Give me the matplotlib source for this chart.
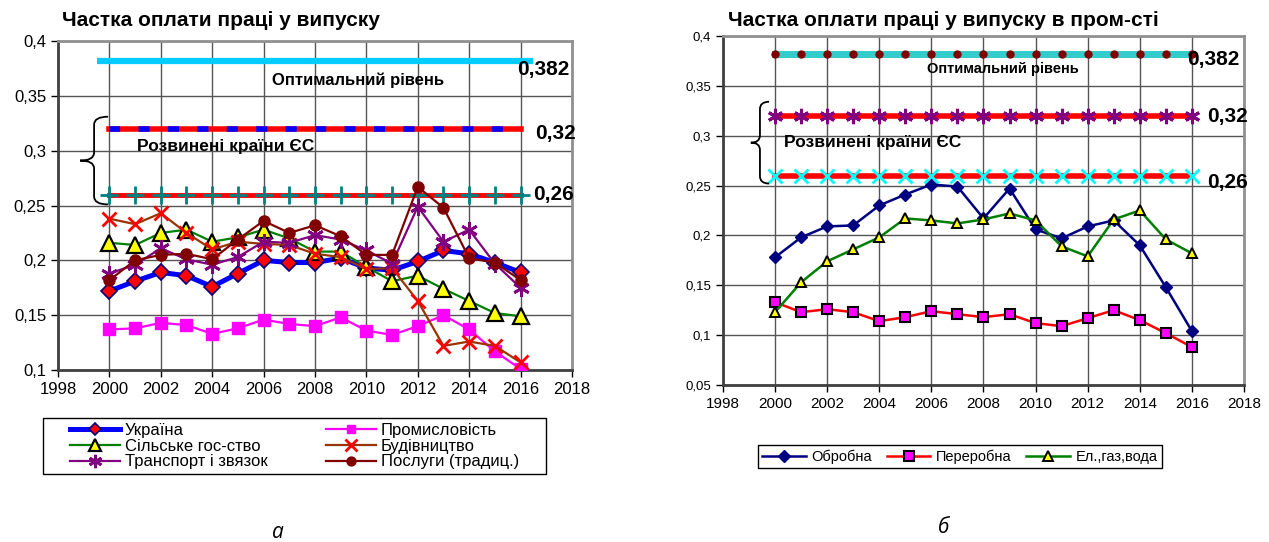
import numpy as np
import matplotlib
matplotlib.use('Agg')
import matplotlib.pyplot as plt
from matplotlib.path import Path
from matplotlib.patches import PathPatch, Rectangle
from matplotlib.ticker import FuncFormatter, MultipleLocator

plt.rcParams['font.family'] = ['Liberation Sans', 'DejaVu Sans']

years = list(range(2000, 2017))

# chart a - share of labour pay in output by sector
ukraine = [0.172, 0.181, 0.189, 0.186, 0.176, 0.188, 0.200, 0.198, 0.198,
           0.202, 0.193, 0.191, 0.199, 0.209, 0.206, 0.198, 0.189]
industry = [0.137, 0.138, 0.143, 0.141, 0.133, 0.138, 0.146, 0.142, 0.140,
            0.148, 0.136, 0.132, 0.140, 0.150, 0.137, 0.117, 0.101]
agriculture = [0.216, 0.214, 0.225, 0.228, 0.217, 0.221, 0.228, 0.220, 0.208,
               0.208, 0.194, 0.181, 0.186, 0.174, 0.163, 0.152, 0.149]
construction = [0.238, 0.233, 0.243, 0.225, 0.210, 0.217, 0.215, 0.214, 0.206,
                0.203, 0.192, 0.193, 0.163, 0.122, 0.126, 0.122, 0.107]
transport = [0.188, 0.196, 0.211, 0.201, 0.196, 0.203, 0.217, 0.216, 0.223,
             0.219, 0.209, 0.197, 0.249, 0.217, 0.228, 0.197, 0.175]
services = [0.182, 0.200, 0.205, 0.206, 0.201, 0.219, 0.236, 0.225, 0.232,
            0.222, 0.205, 0.205, 0.267, 0.248, 0.202, 0.198, 0.182]

# chart b - industry
obrobna = [0.178, 0.198, 0.209, 0.210, 0.230, 0.241, 0.251, 0.249, 0.217,
           0.247, 0.206, 0.197, 0.209, 0.215, 0.190, 0.148, 0.104]
pererobna = [0.133, 0.123, 0.126, 0.123, 0.114, 0.118, 0.124, 0.121, 0.118,
             0.121, 0.112, 0.109, 0.117, 0.125, 0.115, 0.102, 0.088]
energy = [0.123, 0.153, 0.174, 0.186, 0.198, 0.217, 0.215, 0.212, 0.216,
          0.222, 0.215, 0.189, 0.179, 0.216, 0.225, 0.196, 0.182]

optimal = 0.382
eu_high = 0.32
eu_low = 0.26
optimal_span_a = [1999.5, 2016.5]

W, H = 1269, 542

def comma(v, pos):
    return ('%g' % round(v, 3)).replace('.', ',')

def brace(ax, x_tip, x_end, y0, y1):
    xm = (x_tip + x_end) / 2
    yc = (y0 + y1) / 2
    r = (y1 - y0) * 0.09
    verts = [(x_end, y1), (xm, y1), (xm, y1 - r), (xm, yc + r),
             (xm, yc), (x_tip, yc), (xm, yc), (xm, yc - r),
             (xm, y0 + r), (xm, y0), (x_end, y0)]
    codes = [Path.MOVETO, Path.CURVE3, Path.CURVE3, Path.LINETO,
             Path.CURVE3, Path.CURVE3, Path.CURVE3, Path.CURVE3,
             Path.LINETO, Path.CURVE3, Path.CURVE3]
    ax.add_patch(PathPatch(Path(verts, codes), fill=False, lw=1.3,
                           color='black', clip_on=False, zorder=5))

def style_axes(ax, ymin, xfs, yfs):
    ax.set_xlim(1998, 2018)
    ax.set_ylim(ymin, 0.4)
    ax.xaxis.set_major_locator(MultipleLocator(2))
    ax.yaxis.set_major_locator(MultipleLocator(0.05))
    ax.yaxis.set_major_formatter(FuncFormatter(comma))
    ax.grid(True, color='#555555', lw=1)
    ax.set_axisbelow(True)
    for s in ['top', 'right']:
        ax.spines[s].set_color('#909090')
        ax.spines[s].set_linewidth(2)
    for s in ['left', 'bottom']:
        ax.spines[s].set_color('#404040')
        ax.spines[s].set_linewidth(2)
    ax.tick_params(direction='out', length=5, width=1, colors='black')
    ax.tick_params(axis='x', labelsize=xfs)
    ax.tick_params(axis='y', labelsize=yfs)

def frame_box(x0, y0, x1, y1):
    # legend frame in pixel coords of the reference (y from top)
    fig.add_artist(Rectangle((x0 / W, 1 - y1 / H), (x1 - x0) / W,
                             (y1 - y0) / H, transform=fig.transFigure,
                             fill=False, ec='black', lw=1))

fig = plt.figure(figsize=(12.69, 5.42), dpi=100)

# ---------------- chart a
ax1 = fig.add_axes([0.0457, 0.3173, 0.405, 0.607])
style_axes(ax1, 0.1, 12, 12)

ax1.plot(optimal_span_a, [optimal] * 2, color='#00CCFF', lw=4.5,
         solid_capstyle='butt', zorder=3)
ax1.plot(years, [eu_high] * len(years), color='red', lw=4, zorder=3)
ax1.plot(years, [eu_high] * len(years), color='blue', lw=4,
         ls=(0, (2.0, 3.3)), zorder=3)
ax1.plot(years, [eu_low] * len(years), color='red', lw=3.5, zorder=3)
ax1.plot(years, [eu_low] * len(years), color='#008080', lw=0, marker='+',
         ms=13, mew=2, zorder=3)

h_ua, = ax1.plot(years, ukraine, color='blue', lw=3.6, marker='D', ms=8,
                 mfc='red', mec='#000080', mew=1.2, zorder=4, label='Україна')
h_ind, = ax1.plot(years, industry, color='#FF00FF', lw=1.6, marker='s', ms=8,
                  mfc='#FF00FF', mec='#FF00FF', zorder=4, label='Промисловість')
h_agr, = ax1.plot(years, agriculture, color='#008000', lw=1.6, marker='^', ms=11,
                  mfc='yellow', mec='black', mew=1.6, zorder=4,
                  label='Сільське гос-ство')
h_con, = ax1.plot(years, construction, color='#993300', lw=1.6, marker='x',
                  ms=10, mec='red', mew=2, zorder=4, label='Будівництво')
h_tr, = ax1.plot(years, transport, color='#800080', lw=1.6, marker=(6, 2, 0),
                 ms=12, mec='#800080', mew=2, zorder=4,
                 label='Транспорт і звязок')
h_srv, = ax1.plot(years, services, color='#800000', lw=1.6, marker='o', ms=8,
                  mfc='#800000', mec='#800000', zorder=4,
                  label='Послуги (традиц.)')

ax1.text(2009.67, 0.3645, 'Оптимальний рівень', fontsize=12, weight='bold',
         ha='center', va='center', zorder=6)
ax1.text(2015.86, 0.3736, '0,382', fontsize=15, weight='bold', ha='left',
         va='center', clip_on=False, zorder=6)
ax1.text(2016.56, 0.316, '0,32', fontsize=15, weight='bold', ha='left',
         va='center', clip_on=False, zorder=6)
ax1.text(2001.07, 0.3034, 'Розвинені країни ЄС', fontsize=12.5, weight='bold',
         ha='left', va='center', zorder=6)
ax1.text(2016.48, 0.2596, '0,26', fontsize=15, weight='bold', ha='left',
         va='center', clip_on=False, zorder=6)
brace(ax1, 1998.86, 1999.95, 0.251, 0.331)
fig.text(62 / W, 1 - 20 / H, 'Частка оплати праці у випуску',
         fontsize=15, weight='bold', ha='left', va='center')

leg1 = fig.legend([h_ua, h_agr, h_tr, h_ind, h_con, h_srv],
                  ['Україна', 'Сільське гос-ство', 'Транспорт і звязок',
                   'Промисловість', 'Будівництво', 'Послуги (традиц.)'],
                  ncol=2, loc='center', bbox_to_anchor=(0.232, 0.177),
                  fontsize=12, frameon=False, labelspacing=0.05,
                  handlelength=3.0, handletextpad=0.3, columnspacing=3.5,
                  borderpad=0.2, markerscale=0.8)
frame_box(43, 418, 546, 474)
fig.text(0.219, 0.018, 'а', fontsize=15, style='italic', ha='center',
         va='center', family=['Open Sans', 'DejaVu Sans'])

# ---------------- chart b
ax2 = fig.add_axes([0.5697, 0.2897, 0.4106, 0.644])
style_axes(ax2, 0.05, 11, 9.5)

ax2.plot(years, [optimal] * len(years), color='#33CCCC', lw=5, zorder=3)
ax2.plot(years, [optimal] * len(years), lw=0, marker='o', ms=5,
         color='#800000', zorder=3)
ax2.plot(years, [eu_high] * len(years), color='red', lw=4, zorder=3)
ax2.plot(years, [eu_high] * len(years), lw=0, marker=(6, 2, 0), ms=11,
         mew=2.2, mec='#800080', zorder=3)
ax2.plot(years, [eu_low] * len(years), color='red', lw=4, zorder=3)
ax2.plot(years, [eu_low] * len(years), lw=0, marker='x', ms=10, mew=2,
         mec='#00FFFF', zorder=3)

h_ob, = ax2.plot(years, obrobna, color='#000080', lw=1.8, marker='D', ms=6,
                 mfc='#000080', mec='#000080', zorder=4, label='Обробна')
h_pe, = ax2.plot(years, pererobna, color='red', lw=1.8, marker='s', ms=7,
                 mfc='#FF00FF', mec='black', mew=1.5, zorder=4, label='Переробна')
h_en, = ax2.plot(years, energy, color='#008000', lw=1.8, marker='^', ms=7.5,
                 mfc='yellow', mec='black', mew=1.4, zorder=4,
                 label='Ел.,газ,вода')

ax2.text(2005.83, 0.367, 'Оптимальний рівень', fontsize=10.5, weight='bold',
         ha='left', va='center', zorder=6)
ax2.text(2015.81, 0.376, '0,382', fontsize=15, weight='bold', ha='left',
         va='center', clip_on=False, zorder=6)
ax2.text(2016.58, 0.3188, '0,32', fontsize=15, weight='bold', ha='left',
         va='center', clip_on=False, zorder=6)
ax2.text(2000.34, 0.2927, 'Розвинені країни ЄС', fontsize=12.5, weight='bold',
         ha='left', va='center', zorder=6)
ax2.text(2016.58, 0.2526, '0,26', fontsize=15, weight='bold', ha='left',
         va='center', clip_on=False, zorder=6)
brace(ax2, 1999.07, 1999.77, 0.252, 0.334)
fig.text(728 / W, 1 - 20 / H, 'Частка оплати праці у випуску в пром-сті',
         fontsize=15, weight='bold', ha='left', va='center')

leg2 = fig.legend([h_ob, h_pe, h_en], ['Обробна', 'Переробна', 'Ел.,газ,вода'],
                  ncol=3, loc='center', bbox_to_anchor=(0.7565, 0.157),
                  fontsize=10.5, frameon=True, fancybox=False, framealpha=1,
                  edgecolor='black', handlelength=3.0, handletextpad=0.4,
                  columnspacing=1.0, borderpad=0.3)
leg2.get_frame().set_linewidth(1)
fig.text(0.744, 0.026, 'б', fontsize=15, style='italic', ha='center',
         va='center', family=['Open Sans', 'DejaVu Sans'])

fig.savefig('out.png', dpi=100)
